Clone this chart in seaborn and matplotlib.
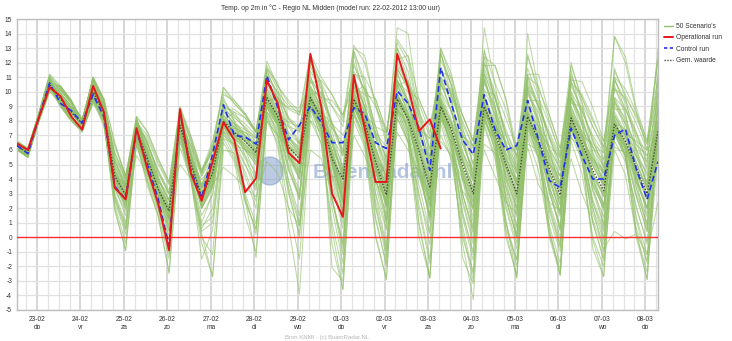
import numpy as np
import pandas as pd
import matplotlib
matplotlib.use('Agg')
import matplotlib.pyplot as plt
import seaborn as sns
from matplotlib.lines import Line2D
from matplotlib.patches import Ellipse

title = "Temp. op 2m in °C - Regio NL Midden (model run: 22-02-2012 13:00 uur)"
date_labels = ['23-02', '24-02', '25-02', '26-02', '27-02', '28-02', '29-02', '01-03',
               '02-03', '03-03', '04-03', '05-03', '06-03', '07-03', '08-03']
day_labels = ['do', 'vr', 'za', 'zo', 'ma', 'di', 'wo', 'do', 'vr', 'za', 'zo', 'ma', 'di', 'wo', 'do']
legend_labels = ["50 Scenario's", "Operational run", "Control run", "Gem. waarde"]

operational = [6.45, 6.0, 8.2, 10.3, 9.7, 8.3, 7.4, 10.4, 8.6, 3.4, 2.6, 7.5, 4.7, 2.3, -0.9, 8.8,
               4.4, 2.5, 5.2, 7.9, 6.7, 3.1, 4.05, 10.8, 9.2, 5.8, 5.1, 12.6, 9.0, 3.0, 1.4, 11.15,
               7.5, 3.8, 3.8, 12.6, 10.3, 7.3, 8.1, 6.1]

control = [6.3, 5.75, 8.2, 10.6, 9.2, 8.7, 7.85, 9.8, 8.3, 3.5, 2.6, 7.3, 5.0, 2.6, -0.6, 8.6,
           4.6, 2.7, 5.7, 9.1, 7.0, 6.9, 6.4, 11.1, 8.9, 6.7, 7.7, 9.0, 7.9, 6.5, 6.5, 8.9,
           8.5, 6.5, 6.1, 10.05, 9.2, 7.5, 4.6, 11.65, 9.1, 6.7, 5.7, 9.8, 7.4, 6.0, 6.3, 9.4,
           6.7, 3.9, 3.4, 7.5, 5.6, 4.0, 4.0, 7.0, 7.45, 4.7, 2.6, 5.2]

mean_vals = [6.3, 5.8, 8.2, 10.5, 9.5, 8.6, 7.8, 10.0, 8.6, 4.2, 2.9, 7.4, 5.4, 3.3, 1.8, 7.7,
             5.1, 2.8, 4.4, 8.0, 7.2, 6.6, 5.8, 9.6, 8.3, 6.2, 5.4, 9.6, 8.2, 5.4, 4.0, 9.5,
             7.9, 5.2, 2.9, 9.5, 8.1, 5.9, 3.4, 9.0, 7.4, 5.0, 3.0, 9.0, 7.2, 5.0, 3.0, 8.3,
             6.7, 4.7, 2.9, 8.2, 6.5, 4.6, 3.2, 7.8, 6.6, 4.8, 3.0, 7.3]

scenarios = [
    [6.4,5.9,8.3,10.6, 9.5,8.5,7.8,10.0, 8.8,4.5,3.2,7.6, 5.6,3.5,2.0,8.0, 5.4,3.0,4.8,8.4, 7.6,6.9,6.0,10.2, 8.8,6.8,5.9,10.4, 8.9,6.0,3.6,10.3, 8.5,5.9,3.5,10.6, 8.9,6.5,4.0,9.9, 8.0,5.6,3.8,9.8, 7.9,5.5,3.6,9.1, 7.4,5.3,3.4,9.0, 7.1,5.2,3.9,8.6, 7.2,5.5,3.7,8.2],
    [6.2,5.7,8.1,10.3, 9.9,9.0,8.0,10.4, 8.2,3.3,1.8,7.0, 4.6,2.2,0.1,7.2, 4.4,1.5,2.9,7.6, 6.2,4.5,2.5,9.0, 7.0,3.9,1.5,9.0, 6.8,2.6,-0.5,8.7, 6.5,2.0,-1.0,8.9, 6.9,3.0,-0.5,8.6, 6.0,1.8,-1.2,8.4, 5.9,2.0,-0.8,7.6, 5.5,1.8,-0.7,7.7, 5.2,1.6,-0.5,7.2, 5.4,2.0,-0.3,6.8],
    [6.5,6.0,8.4,10.9, 9.2,8.2,7.5,9.6, 9.0,5.8,4.0,7.8, 6.5,4.6,3.0,7.5, 6.0,4.2,5.5,7.6, 7.5,7.2,6.8,8.8, 8.2,7.6,7.3,9.0, 8.4,7.5,6.5,9.1, 8.3,7.2,6.2,9.2, 8.4,7.6,6.8,8.6, 7.9,7.0,6.1,8.4, 7.6,6.6,5.7,7.9, 7.2,6.3,5.5,7.6, 7.0,6.4,5.8,7.3, 7.1,6.6,6.0,7.0],
    [6.1,5.6,8.0,10.2, 10.2,9.3,8.1,10.8, 9.3,5.2,3.7,8.1, 6.2,4.1,2.6,8.5, 5.9,3.6,5.6,9.2, 8.4,7.8,7.0,11.2, 9.9,8.1,7.4,11.4, 10.2,7.9,5.8,11.8, 10.1,7.6,5.4,12.0, 10.6,8.3,6.1,11.7, 9.8,7.4,5.6,11.6, 9.6,7.2,5.5,10.8, 9.0,6.9,5.1,10.6, 8.7,6.8,5.4,10.2, 8.9,7.0,5.3,9.8],
    [6.3,5.8,8.2,10.5, 9.0,8.0,7.3,9.3, 7.9,2.6,0.5,6.6, 4.0,1.9,-1.2,7.0, 4.2,0.8,1.4,7.3, 6.0,3.0,0.9,8.6, 7.4,4.6,2.8,9.7, 8.0,5.2,2.6,10.1, 8.2,5.6,3.2,10.4, 8.6,6.2,3.9,9.6, 7.8,5.4,3.3,9.6, 7.5,5.1,3.1,8.8, 7.0,5.0,3.1,8.7, 6.9,4.9,3.6,8.3, 7.0,5.1,3.4,7.9],
    [6.0,5.5,8.0,10.1, 9.7,8.8,7.9,10.2, 8.6,4.1,2.8,7.3, 5.3,3.2,1.4,7.6, 5.0,2.6,4.2,7.9, 7.1,6.4,5.5,9.5, 8.2,6.0,5.0,9.4, 8.0,5.2,2.5,9.2, 7.6,4.6,2.1,9.0, 7.4,4.2,1.5,8.2, 6.5,3.0,0.4,8.0, 6.2,2.8,0.0,7.2, 5.6,2.2,-0.4,7.0, 5.3,2.0,-0.2,6.6, 5.2,2.1,-0.5,6.0],
    [6.6,6.1,8.5,11.2, 10.4,9.4,7.9,11.0, 9.5,4.0,2.0,8.2, 5.5,2.9,0.6,8.8, 5.6,2.0,3.5,9.6, 8.0,6.0,4.2,11.5, 9.5,6.0,4.0,11.8, 9.8,5.0,1.5,12.6, 9.5,4.8,1.2,13.0, 10.8,6.2,2.2,12.8, 9.6,4.5,1.0,12.9, 9.0,4.0,0.6,14.0, 10.2,3.6,0.5,11.5, 8.2,3.5,0.9,11.0, 8.6,3.8,0.8,10.8],
    [6.3,5.7,8.2,10.8, 9.4,8.6,7.6,9.8, 8.9,6.2,4.2,7.7, 6.8,5.0,3.6,7.3, 6.3,4.6,5.9,7.2, 7.0,6.8,6.4,8.6, 7.8,6.2,5.0,9.3, 7.9,5.4,2.8,9.5, 7.7,5.0,2.6,9.8, 8.0,5.6,3.0,9.4, 7.2,4.7,2.6,9.2, 7.0,4.8,2.7,8.5, 6.6,4.4,2.6,8.4, 6.4,4.3,2.9,8.0, 6.5,4.5,2.8,7.6],
    [6.4,5.9,8.3,10.7, 9.3,8.3,7.4,9.6, 8.0,3.0,1.0,7.0, 4.5,2.0,-0.6,7.1, 4.0,0.0,-1.2,6.8, 5.4,2.4,0.6,8.4, 6.2,0.8,-3.9,8.0, 6.5,1.0,-2.5,9.0, 7.2,3.0,0.5,9.8, 8.0,5.0,2.5,9.2, 7.0,4.2,2.0,9.1, 6.8,4.4,2.4,8.0, 6.2,4.0,2.2,8.0, 6.2,4.2,2.8,7.7, 6.3,4.4,2.6,7.1],
    [6.2,5.7,8.1,10.4, 10.1,9.2,8.1,10.7, 8.7,4.4,3.0,7.5, 5.4,3.3,1.7,7.8, 5.2,2.9,4.5,8.1, 7.4,6.8,6.0,9.9, 8.6,6.6,5.8,10.2, 9.0,6.6,4.4,10.8, 9.4,7.2,5.5,11.5, 10.5,8.6,7.0,12.2, 10.4,8.4,6.6,12.8, 10.6,8.8,6.0,12.4, 10.2,8.4,6.1,11.8, 9.6,8.0,6.6,11.4, 9.8,8.2,6.4,11.0],
    [6.5,6.0,8.3,10.8, 9.1,8.1,7.4,9.4, 8.4,3.8,2.5,7.2, 5.1,3.0,1.2,7.5, 4.8,2.4,4.0,7.7, 6.8,6.1,5.2,9.2, 7.8,5.5,4.4,9.0, 7.4,4.0,1.0,8.6, 6.8,2.5,-0.8,8.2, 6.5,1.8,-1.8,7.8, 5.2,0.4,-3.0,7.6, 5.4,1.0,-2.0,6.8, 4.6,0.2,-2.2,6.6, 4.4,0.0,-2.0,6.0, 4.3,0.2,-2.4,5.6],
    [6.1,5.6,8.0,10.3, 9.6,8.7,7.8,10.1, 8.8,5.0,3.6,7.6, 6.0,4.0,2.5,7.9, 5.6,3.4,5.0,8.1, 7.8,7.4,6.9,9.0, 8.5,7.9,7.6,9.2, 8.6,7.8,7.0,9.0, 8.4,7.6,7.2,8.6, 8.2,7.4,6.8,8.0, 7.6,7.0,6.3,8.3, 7.8,6.4,5.0,8.6, 7.6,6.0,4.8,8.3, 7.3,6.2,5.3,7.9, 7.4,6.4,5.6,7.2],
    [6.6,6.0,8.5,11.1, 10.3,9.3,7.9,10.9, 9.4,4.8,3.4,8.1, 6.0,3.7,2.0,8.6, 5.8,3.3,5.2,9.4, 8.3,7.5,6.5,11.6, 10.2,7.8,6.5,12.0, 10.6,7.3,4.6,12.8, 10.4,6.9,4.0,13.4, 12.0,8.2,5.0,13.0, 10.8,7.0,4.2,14.4, 10.5,6.4,3.8,12.6, 9.8,6.0,3.4,12.0, 9.3,5.8,3.6,11.6, 9.6,6.1,3.5,11.4],
    [6.3,5.8,8.2,10.6, 9.5,8.6,7.7,9.9, 8.5,4.0,2.7,7.4, 5.3,3.2,1.5,7.7, 5.1,2.8,4.4,8.0, 7.2,6.6,5.8,9.6, 8.3,6.2,5.4,9.6, 8.4,5.9,3.3,9.1, 7.5,4.8,2.3,9.9, 8.4,6.2,3.8,9.3, 7.1,4.6,2.4,8.7, 7.5,5.4,3.6,8.0, 6.4,4.3,2.4,8.5, 6.8,5.0,3.6,7.5, 6.3,4.4,2.6,7.6],
    [6.4,5.9,8.3,10.6, 9.9,9.0,8.0,10.4, 9.5,6.5,4.2,8.3, 7.3,5.4,3.8,9.0, 7.0,4.6,6.2,9.8, 9.4,8.5,7.3,11.0, 10.0,9.0,8.9,10.6, 10.8,9.8,8.4,11.2, 11.0,9.5,7.3,12.2, 12.5,9.5,7.7,11.4, 11.0,8.4,6.6,12.4, 11.8,9.5,6.1,11.2, 11.2,8.4,6.1,10.8, 10.7,8.9,6.6,11.0, 10.2,8.6,6.6,12.2],
    [6.3,5.8,8.1,10.4, 9.5,8.5,7.8,10.0, 8.3,2.8,0.8,6.8, 4.2,2.0,-0.2,7.3, 4.4,1.0,3.0,7.8, 6.6,5.0,3.2,9.0, 7.6,3.8,1.0,9.4, 7.4,2.0,-1.8,9.4, 7.0,1.4,-2.0,9.6, 7.2,2.2,-1.5,9.0, 6.2,0.8,-2.6,9.0, 6.4,0.4,-2.8,8.2, 5.6,0.0,-2.6,8.2, 5.4,-0.2,-2.7,7.8, 5.6,0.0,-2.9,7.4],
    [6.0,5.5,7.9,10.0, 9.2,8.2,7.5,9.7, 8.1,3.4,1.5,7.0, 4.8,2.5,0.5,7.2, 4.2,-1.5,0.5,7.0, 6.4,4.2,2.0,9.2, 7.9,5.6,4.0,10.2, 8.5,5.8,3.4,10.9, 8.8,5.4,2.8,11.4, 9.2,6.0,3.2,10.6, 8.6,5.4,2.8,11.2, 8.0,4.8,2.0,10.2, 7.6,4.2,1.6,9.6, 7.2,4.0,1.8,9.4, 7.4,4.2,1.6,9.0],
    [6.5,6.0,8.4,10.9, 10.2,9.3,8.1,10.8, 9.0,5.0,3.5,7.9, 6.1,4.0,2.4,8.3, 5.8,3.6,5.4,8.8, 8.2,7.6,6.8,10.8, 9.6,8.2,7.6,11.0, 9.6,7.8,6.0,11.0, 9.0,6.2,4.0,10.6, 8.4,4.8,1.6,9.0, 6.8,2.4,-0.5,8.2, 6.4,2.2,-0.4,7.4, 5.9,2.4,0.0,7.6, 5.8,2.6,0.6,7.0, 5.6,2.8,0.4,6.6],
    [6.1,5.6,8.0,10.2, 9.0,8.0,7.2,9.2, 7.8,2.5,0.2,6.4, 3.8,1.6,-1.5,6.6, 4.0,0.4,1.0,7.2, 5.6,2.6,0.5,8.2, 6.8,3.0,0.2,8.8, 7.0,2.6,-0.4,9.6, 7.8,4.4,2.4,10.8, 9.4,7.0,5.5,11.6, 9.6,7.8,6.2,12.0, 10.0,8.2,6.0,11.6, 9.6,7.8,5.8,11.2, 9.2,7.6,6.2,10.8, 9.4,7.8,6.0,10.6],
    [6.3,5.8,8.2,10.5, 9.7,8.8,7.9,10.2, 8.7,4.3,3.0,7.5, 5.5,3.4,1.8,7.8, 5.2,2.9,4.6,8.2, 7.3,6.7,5.9,9.8, 8.5,6.4,5.6,9.8, 8.4,5.8,3.2,9.9, 8.2,5.6,3.3,9.8, 8.3,6.0,3.6,9.4, 7.6,5.2,3.2,9.4, 7.4,5.2,3.3,8.6, 7.0,5.0,3.2,8.5, 6.8,4.9,3.5,8.1, 6.9,5.0,3.3,7.6],
    [6.6,6.1,8.5,11.0, 9.4,8.6,7.6,9.8, 8.5,4.0,2.6,7.4, 5.2,3.0,1.4,7.6, 5.0,2.6,4.1,7.9, 7.0,6.2,5.4,9.4, 8.0,5.8,4.6,9.6, 8.0,5.0,2.2,9.4, 7.4,4.0,1.0,9.2, 7.2,3.6,0.4,8.6, 6.0,-0.4,-4.3,7.8, 5.6,0.0,-2.6,7.0, 5.4,1.4,-1.0,7.4, 5.6,2.4,0.4,7.4, 5.8,3.0,1.0,7.0],
    [6.4,5.9,8.3,10.6, 10.4,9.4,8.0,11.0, 9.4,5.4,4.0,8.0, 6.5,4.4,3.0,8.9, 6.8,4.4,6.4,10.3, 9.2,8.4,7.3,12.1, 10.4,9.2,8.4,12.3, 10.6,9.0,7.6,13.0, 12.5,9.0,6.5,14.4, 14.0,8.8,6.0,13.0, 11.2,7.6,5.0,12.0, 9.6,7.0,5.2,11.0, 9.2,6.8,5.0,10.4, 8.8,6.6,5.0,13.8, 12.4,8.9,6.6,12.4],
    [6.2,5.7,8.1,10.3, 9.5,8.5,7.8,10.0, 8.0,2.0,-0.9,6.6, 3.5,1.5,-2.5,6.8, 3.8,-0.4,-2.7,6.5, 5.2,1.5,-1.0,8.0, 6.5,2.0,-1.5,8.5, 6.4,0.5,-3.6,8.0, 6.2,0.0,-2.9,8.6, 6.6,1.0,-2.8,8.2, 5.6,0.0,-2.4,8.4, 6.0,0.6,-1.5,7.8, 5.4,0.8,-1.8,7.8, 5.6,1.0,-1.4,7.4, 5.6,1.4,-1.2,7.0],
    [6.5,6.0,8.3,10.7, 9.2,8.2,7.5,9.6, 8.2,4.4,3.4,6.8, 5.0,3.8,3.0,6.6, 5.0,4.0,4.8,6.8, 6.4,6.0,5.6,8.0, 7.0,6.2,5.8,8.0, 7.2,6.0,4.6,8.4, 7.0,4.8,3.0,8.2, 6.6,4.2,2.6,7.0, 5.4,3.2,2.0,6.0, 4.2,2.4,1.6,6.2, 3.6,2.4,1.8,5.4, 3.0,1.2,-0.8,0.4, -0.1,0.2,-1.2,2.4],
    [6.3,5.7,8.2,10.8, 9.9,8.9,8.0,10.5, 8.9,4.6,3.3,7.8, 5.8,3.6,2.1,8.2, 5.5,3.1,4.9,8.7, 7.8,7.0,6.2,10.6, 9.2,7.0,6.0,10.8, 9.2,6.4,4.0,11.0, 9.0,6.0,3.8,11.2, 9.4,6.6,4.2,10.8, 8.6,5.8,3.9,10.8, 8.4,5.8,3.8,10.2, 8.0,5.4,3.6,9.8, 7.7,5.4,4.0,9.4, 7.8,5.6,3.8,9.2],
    [6.3,5.8,8.2,10.4, 9.0,8.0,7.3,9.3, 8.2,3.5,2.0,7.1, 4.8,2.6,0.8,7.3, 4.6,2.0,3.4,7.6, 6.6,5.6,4.4,9.0, 7.6,4.8,2.8,9.0, 7.2,-0.5,-3.6,8.4, 6.4,1.2,-1.8,8.8, 7.0,2.8,0.2,8.4, 6.4,3.0,0.6,8.6, 6.6,3.6,1.6,7.8, 6.0,3.4,1.6,7.8, 6.0,3.6,2.0,7.4, 6.0,3.8,2.0,6.8],
    [6.0,5.5,8.0,10.1, 10.4,9.4,7.9,11.0, 9.5,6.4,4.2,8.3, 7.2,5.4,3.8,8.8, 6.9,4.6,6.6,10.0, 9.2,8.4,7.2,11.8, 10.4,9.4,8.6,12.6, 11.0,9.8,8.2,13.2, 12.0,9.2,6.8,13.6, 12.4,8.6,5.6,12.6, 10.4,6.8,4.0,11.4, 9.0,5.2,2.8,10.0, 8.0,4.6,2.2,9.0, 7.2,4.2,2.2,8.4, 7.0,4.0,2.0,8.0],
    [6.6,6.0,8.4,11.0, 9.2,8.2,7.5,9.6, 7.6,3.6,2.4,5.6, 4.4,3.0,2.6,5.0, 4.0,3.0,3.6,4.8, 4.2,3.4,2.8,5.2, 4.4,2.0,0.8,6.0, 5.4,3.0,1.4,7.0, 5.6,3.8,2.6,7.2, 6.0,4.4,3.0,6.6, 5.6,4.0,3.2,6.4, 5.8,4.8,4.0,6.4, 6.0,5.0,4.2,6.8, 6.2,5.2,4.4,6.2, 5.8,4.6,3.6,5.8],
    [6.4,5.9,8.2,10.5, 9.4,8.6,7.6,9.8, 8.4,3.9,2.6,7.3, 5.2,3.1,1.3,7.6, 4.9,2.5,4.0,7.8, 7.0,6.3,5.4,9.3, 8.0,5.6,4.4,9.2, 7.6,4.4,1.8,9.0, 7.2,4.0,1.6,8.8, 7.6,5.0,2.6,8.6, 6.9,4.2,2.0,8.6, 6.8,4.2,2.0,7.9, 6.2,3.8,1.8,7.8, 6.0,3.8,2.2,7.4, 6.1,4.0,2.0,6.9],
    [6.2,5.7,8.1,10.4, 9.7,8.8,7.9,10.3, 9.2,5.6,4.0,8.0, 6.4,4.6,3.2,8.4, 6.2,4.4,6.0,9.0, 8.6,8.2,7.2,10.6, 9.6,8.8,8.4,10.8, 9.8,9.0,8.0,11.4, 10.2,9.0,7.2,11.8, 10.6,9.2,7.2,11.0, 10.0,8.0,6.2,11.2, 9.5,7.4,5.6,10.4, 9.0,7.0,5.4,10.0, 8.6,7.0,5.8,9.6, 8.8,7.2,5.6,9.4],
    [6.5,6.0,8.4,10.8, 9.5,8.5,7.8,10.0, 8.4,3.7,2.4,7.2, 5.0,2.8,1.0,7.4, 4.7,2.2,3.8,7.8, 6.9,6.0,5.0,9.4, 8.0,5.4,4.0,9.6, 8.2,4.8,1.8,9.8, 7.9,4.2,1.2,9.8, 8.2,4.6,1.4,9.2, 7.2,3.0,0.2,9.2, 7.0,1.2,-2.8,8.6, 6.2,0.6,-2.6,8.6, 6.0,1.0,-1.6,8.2, 6.0,1.2,-1.8,7.6],
    [6.1,5.6,8.0,10.2, 9.9,9.0,8.0,10.4, 8.8,4.2,2.9,7.5, 5.6,3.4,1.8,8.0, 5.4,3.0,4.6,8.4, 7.6,7.0,6.2,10.2, 8.6,6.8,6.0,10.0, 8.8,6.4,4.2,10.4, 8.6,6.2,4.0,10.8, 9.2,6.8,4.4,10.6, 8.6,6.0,4.0,10.8, 8.8,6.4,4.6,10.6, 9.0,7.2,5.6,11.0, 9.6,7.6,6.0,13.8, 12.0,8.6,6.0,12.2],
    [6.3,5.8,8.2,10.5, 9.2,8.2,7.4,9.5, 8.0,2.2,-0.4,6.4, 3.8,1.4,-2.4,6.2, 4.0,0.6,2.0,7.4, 6.2,5.0,3.6,9.0, 7.8,5.6,4.2,9.8, 8.4,6.0,3.6,10.4, 8.4,5.8,3.4,10.2, 8.6,6.2,3.8,9.6, 7.8,5.4,3.4,9.6, 7.6,5.4,3.6,9.0, 7.2,5.2,3.4,8.8, 7.0,5.2,3.6,8.4, 7.0,5.2,3.4,8.0],
    [6.0,5.5,8.0,10.1, 10.1,9.2,8.1,10.7, 8.7,4.2,2.8,7.4, 5.4,3.3,1.6,7.8, 5.0,2.7,4.2,8.0, 7.0,6.2,5.2,9.4, 7.8,5.0,3.2,9.2, 7.6,3.6,0.6,9.0, 7.0,0.2,-2.9,8.6, 6.6,0.0,-2.8,8.4, 6.4,1.6,-1.0,8.6, 6.8,3.0,0.8,8.0, 6.4,3.4,1.4,8.0, 6.2,3.6,2.0,7.6, 6.4,3.8,2.0,7.2],
    [6.5,6.1,8.5,11.0, 9.1,8.1,7.4,9.4, 9.0,5.8,4.2,7.9, 7.0,5.2,3.7,8.5, 6.6,4.4,6.2,8.8, 8.8,8.2,7.2,9.4, 9.4,8.9,8.6,10.2, 9.6,9.4,8.4,10.4, 9.8,9.5,7.3,10.6, 10.0,9.5,7.7,10.4, 9.8,8.4,6.6,11.8, 11.8,9.5,5.4,11.0, 10.4,8.0,5.6,10.6, 9.8,8.2,6.2,10.2, 9.6,8.4,6.4,10.0],
    [6.3,5.8,8.3,10.7, 10.3,9.3,7.9,10.9, 9.2,4.6,3.0,7.9, 5.6,3.2,1.2,8.2, 5.4,2.0,3.6,8.8, 7.8,5.6,3.4,10.6, 9.4,5.4,2.6,11.2, 8.4,-2.1,-3.0,10.8, 9.0,3.0,-0.6,11.6, 10.2,5.0,1.0,11.0, 9.2,4.0,0.6,11.0, 8.6,3.4,0.2,10.4, 8.2,3.2,0.4,10.0, 7.8,3.2,0.8,9.6, 8.0,3.4,0.6,9.2],
    [6.4,5.9,8.3,10.5, 9.3,8.3,7.6,9.7, 8.8,4.8,3.6,7.5, 5.9,3.9,2.6,7.6, 5.6,3.6,5.0,7.9, 7.6,7.0,6.4,9.4, 8.4,6.8,6.2,9.4, 8.4,6.4,4.4,9.3, 8.0,6.0,4.2,9.2, 8.2,6.6,4.8,8.8, 7.6,5.8,4.4,8.8, 7.4,5.8,4.4,8.2, 7.0,5.6,4.2,8.0, 6.8,5.4,4.4,7.6, 6.8,5.6,4.4,7.2],
    [6.2,5.7,8.1,10.3, 9.4,8.6,7.6,9.8, 8.0,2.8,0.6,6.8, 4.4,2.4,-0.8,7.0, 4.2,0.2,-2.7,6.0, 5.8,2.8,0.2,8.4, 7.0,3.4,0.8,9.0, 7.6,4.2,1.6,9.6, 7.8,4.6,2.0,9.8, 8.0,5.2,2.6,9.2, 7.2,4.6,2.4,9.2, 7.0,4.6,2.6,8.4, 6.6,4.4,2.6,8.2, 6.4,4.4,2.8,7.8, 6.4,4.6,2.8,7.4],
    [6.5,6.0,8.4,10.8, 9.7,8.8,7.9,10.2, 8.6,4.2,2.9,7.4, 5.4,3.3,1.7,7.8, 5.1,2.8,4.4,8.1, 7.3,6.6,5.7,9.8, 8.4,6.0,5.0,9.8, 8.2,5.4,2.6,9.6, 8.0,5.0,2.4,9.6, 8.0,5.4,2.8,9.0, 7.2,4.4,2.2,9.0, 7.0,4.2,2.0,8.2, 6.4,3.2,0.6,8.0, 6.0,2.0,-1.0,7.6, 5.6,0.4,-2.9,7.0],
    [6.1,5.6,8.0,10.2, 9.5,8.5,7.8,10.0, 8.6,4.2,2.9,7.4, 5.4,3.3,1.6,7.6, 5.1,2.8,4.4,7.9, 7.2,6.6,5.8,9.6, 8.2,6.2,5.4,9.6, 8.2,5.6,3.0,9.6, 8.0,5.4,3.0,9.8, 8.4,6.0,3.6,9.4, 7.8,5.4,3.4,9.6, 7.8,5.6,3.6,9.2, 7.6,5.6,3.8,9.6, 8.0,6.2,4.4,10.8, 9.2,7.2,5.0,13.0],
    [6.3,5.8,8.2,10.6, 10.2,9.3,8.1,10.8, 8.9,4.4,3.0,7.6, 5.4,3.2,1.4,7.7, 4.8,2.2,3.6,7.6, 6.4,2.6,-1.4,8.6, 7.2,3.2,0.0,9.0, 7.4,2.8,-0.8,9.2, 7.6,3.6,0.6,9.6, 8.0,4.8,2.2,9.2, 7.2,4.2,1.8,9.2, 7.0,4.0,1.8,8.4, 6.6,4.0,1.8,8.2, 6.4,4.0,2.2,7.8, 6.4,4.2,2.0,7.4],
    [6.6,6.1,8.5,11.2, 9.9,9.0,8.0,10.4, 9.0,4.4,2.9,8.0, 5.6,3.2,1.4,8.4, 5.6,3.0,4.6,9.0, 8.0,7.0,5.8,11.4, 9.8,7.0,5.6,12.2, 10.2,6.8,4.0,12.8, 10.8,7.2,4.4,13.0, 11.4,7.6,4.6,12.6, 10.4,6.8,4.2,12.4, 9.6,6.2,3.8,11.2, 8.8,5.8,3.6,10.8, 8.4,5.6,3.8,10.4, 8.4,5.8,3.6,10.0],
    [6.3,5.7,8.2,10.6, 9.0,8.0,7.3,9.3, 8.3,3.6,2.2,7.2, 5.0,2.9,1.2,7.4, 4.8,2.4,4.0,7.8, 7.0,6.4,5.6,9.2, 8.0,6.6,5.6,9.0, 8.0,6.8,5.6,8.8, 7.6,5.4,3.4,8.8, 7.8,4.6,1.2,8.4, 6.8,2.6,-0.2,8.2, 6.6,3.4,1.4,7.6, 6.4,4.6,3.4,7.4, 6.6,5.4,4.6,7.6, 7.0,6.0,5.2,7.6],
    [6.4,5.9,8.3,10.7, 9.7,8.8,7.9,10.2, 8.5,4.0,2.6,7.3, 5.2,3.0,1.2,7.5, 4.9,2.6,4.2,7.8, 7.0,6.4,5.6,9.4, 8.1,5.8,4.8,9.6, 8.2,5.2,2.4,9.8, 8.0,5.0,2.4,9.8, 8.2,4.4,1.4,9.0, 6.8,-1.4,-3.2,8.0, 6.6,1.0,-1.6,7.4, 6.4,2.0,-0.6,7.4, 6.2,2.4,0.0,7.2, 6.2,2.8,0.4,6.8],
    [6.2,5.7,8.1,10.4, 10.4,9.4,7.9,11.0, 9.2,5.2,3.8,8.1, 6.4,4.4,3.0,8.8, 6.6,4.2,6.0,10.3, 9.4,8.5,7.3,11.6, 10.6,8.2,7.2,12.4, 10.4,7.6,5.6,12.0, 10.0,7.0,5.0,11.6, 10.2,7.2,5.2,10.8, 9.4,6.4,4.6,10.6, 9.0,6.2,4.4,9.8, 8.6,6.0,4.2,9.6, 8.2,5.8,4.4,9.2, 8.2,6.0,4.2,8.8],
    [6.5,6.0,8.3,10.7, 9.2,8.2,7.5,9.6, 7.8,1.8,-0.9,6.8, 4.4,2.4,0.4,7.2, 4.5,2.2,3.8,7.6, 6.8,6.0,5.0,9.2, 7.8,5.6,4.6,9.4, 7.8,5.0,2.4,9.2, 7.6,4.8,2.4,9.2, 7.8,5.6,3.2,8.8, 7.2,4.8,2.8,8.8, 7.0,4.8,2.8,8.0, 6.4,4.4,2.6,7.8, 6.2,4.4,3.0,7.4, 6.2,4.6,2.8,7.0],
    [6.1,5.6,8.0,10.3, 9.4,8.6,7.6,9.8, 9.2,5.4,3.4,7.8, 6.6,4.2,2.0,7.8, 6.4,3.4,4.6,8.0, 8.6,7.4,6.0,9.4, 9.6,7.6,6.4,9.8, 10.0,7.8,5.8,10.0, 10.4,7.6,5.2,10.4, 10.8,7.8,5.4,10.2, 10.2,7.2,5.0,10.0, 9.8,7.0,4.8,9.4, 9.4,6.8,4.6,9.2, 9.0,6.6,4.8,8.8, 8.8,6.8,4.6,8.6],
    [6.3,5.8,8.2,10.5, 9.9,8.9,8.0,10.5, 8.8,4.4,3.0,7.6, 5.6,3.4,1.8,7.9, 5.3,2.9,4.6,8.3, 7.5,6.8,6.0,10.0, 8.6,6.4,5.4,10.0, 8.6,5.6,2.8,10.0, 8.2,5.0,2.2,9.8, 8.2,5.0,2.0,9.2, 7.2,4.0,1.4,9.0, 6.8,2.6,0.0,8.0, 6.0,0.4,-2.6,7.6, 5.6,-0.8,-2.7,7.2, 5.6,0.6,-1.6,6.8],
    [6.0,5.5,7.9,10.0, 9.5,8.5,7.8,10.0, 8.6,4.6,3.4,7.8, 5.8,3.7,2.2,8.2, 5.6,3.4,5.0,8.6, 7.8,7.2,6.4,10.4, 9.0,7.2,6.4,10.4, 9.0,6.8,4.8,10.6, 9.0,6.8,4.8,10.8, 9.2,7.0,5.0,10.0, 8.6,6.4,4.6,10.2, 8.4,6.4,4.6,9.4, 8.0,6.2,4.6,9.4, 7.8,6.2,4.8,9.0, 7.8,6.4,4.8,8.6],
    [6.6,6.0,8.4,11.0, 10.1,9.2,8.0,10.6, 8.4,3.6,2.2,7.2, 5.0,2.8,0.8,7.4, 4.6,2.0,3.4,7.6, 6.8,5.4,4.0,9.2, 7.8,4.6,2.6,9.4, 7.6,2.6,-1.2,9.4, 7.4,2.2,-1.4,9.6, 7.4,0.8,-2.8,8.8, 6.6,1.4,-1.6,8.8, 6.8,2.6,0.0,8.2, 6.4,3.0,0.8,8.0, 6.2,3.2,1.4,7.6, 6.2,3.4,1.4,7.2],
]

# ---------------------------------------------------------------
sns.set_theme(style='white')
plt.rcParams['font.family'] = ['Liberation Sans', 'DejaVu Sans']
plt.rcParams['axes.unicode_minus'] = False

n = len(control)
steps = list(range(n))
bad = [k for k, s in enumerate(scenarios) if len(s) != n]
if bad:
    print('length mismatch', bad, [len(scenarios[k]) for k in bad])

rows = []
for m, vals in enumerate(scenarios):
    for s, v in zip(steps, vals):
        rows.append((m, s, v))
df_s = pd.DataFrame(rows, columns=['member', 'step', 'temp'])
df_op = pd.DataFrame({'step': steps[:len(operational)], 'temp': operational})
df_ct = pd.DataFrame({'step': steps, 'temp': control})
df_mn = pd.DataFrame({'step': steps, 'temp': mean_vals})

W, H = 732, 341
fig = plt.figure(figsize=(W / 100, H / 100), dpi=100)
ax = fig.add_axes([17 / W, 1 - 310 / H, 641 / W, 291 / H])

c_scen = '#92c06a'
c_op = '#e8161b'
c_ct = '#2233ee'
c_mn = '#4a4a3a'

# watermark (below the lines)
ax.text(383 / W, 1 - 172 / H, 'BuienRadar.nl', transform=fig.transFigure, fontsize=15,
        fontweight='bold', color='#7b98c9', alpha=0.55, ha='center', va='center', zorder=1.5)
ax.add_artist(Ellipse((270 / W, 1 - 171 / H), 26 / W, 28 / H, transform=fig.transFigure,
                      color='#7b98c9', alpha=0.5, zorder=1.5))

sns.lineplot(data=df_s, x='step', y='temp', units='member', estimator=None, color=c_scen,
             lw=0.75, alpha=0.6, legend=False, ax=ax, zorder=2)
ax.axhline(0, color='#ff3030', lw=1.0, zorder=3.5)
sns.lineplot(data=df_mn, x='step', y='temp', color=c_mn, lw=1.0, linestyle=(0, (1, 1.2)),
             ax=ax, zorder=4)
sns.lineplot(data=df_ct, x='step', y='temp', color=c_ct, lw=1.2, linestyle=(0, (3.5, 2)),
             ax=ax, zorder=5)
sns.lineplot(data=df_op, x='step', y='temp', color=c_op, lw=1.4, ax=ax, zorder=6)

ax.set_xlim(0, n - 1)
ax.set_ylim(-5, 15)
major_x = [11 / 6 + 4 * k for k in range(len(date_labels))]
ax.set_xticks(major_x)
ax.set_xticklabels([f'{d}\n{w}' for d, w in zip(date_labels, day_labels)])
ax.set_xticks([5 / 6 + k for k in range(n - 1)], minor=True)
ax.set_yticks(range(-5, 16))
ax.grid(which='minor', axis='x', color='#e3e3e3', lw=0.9)
ax.grid(which='major', axis='x', color='#cbcbcb', lw=1.1)
ax.grid(which='major', axis='y', color='#e0e0e0', lw=0.9)
ax.set_axisbelow(True)
ax.tick_params(axis='x', which='major', length=3.5, width=1.1, color='#cbcbcb', pad=1,
               labelsize=4.8, labelcolor='#333333')
ax.tick_params(axis='x', which='minor', length=0)
ax.tick_params(axis='y', length=0, pad=3.5, labelsize=4.8, labelcolor='#333333')
for sp in ax.spines.values():
    sp.set_color('#bdbdbd')
    sp.set_linewidth(1.0)
ax.set_xlabel('')
ax.set_ylabel('')

fig.text(330 / W, 1 - 8 / H, title, ha='center', va='center', fontsize=4.9, color='#333333')
fig.text(327 / W, 1 - 337 / H, 'Bron KNMI - (c) BuienRadar.NL', ha='center', va='center',
         fontsize=4.3, color='#b5b5b5')

handles = [Line2D([], [], color=c_scen, lw=1.0),
           Line2D([], [], color=c_op, lw=1.4),
           Line2D([], [], color=c_ct, lw=1.2, linestyle=(0, (2, 1.5))),
           Line2D([], [], color=c_mn, lw=1.0, linestyle=(0, (1, 1)))]
fig.legend(handles, legend_labels, loc='upper left', bbox_to_anchor=(664 / W, 1 - 23 / H),
           frameon=False, fontsize=4.8, labelcolor='#333333', handlelength=1.3,
           handletextpad=0.5, labelspacing=0.65, borderpad=0, borderaxespad=0)

fig.savefig('out.png', dpi=100)
